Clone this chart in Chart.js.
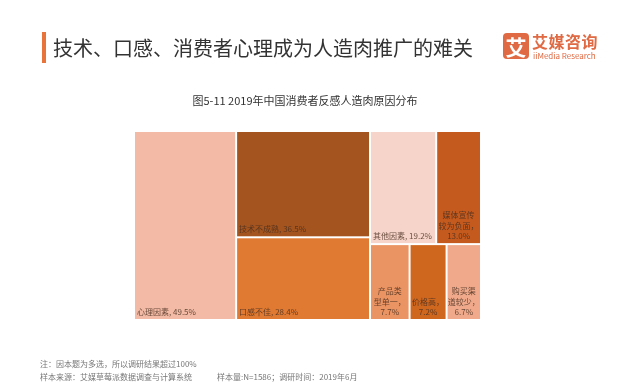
<!DOCTYPE html>
<html><head><meta charset="utf-8">
<script src="https://cdn.jsdelivr.net/npm/chart.js@4.4.0/dist/chart.umd.min.js"></script>
<style>
html,body{margin:0;padding:0;background:#fff;width:640px;height:387px;overflow:hidden;font-family:"Noto Sans CJK SC","Noto Sans",sans-serif;}
#wrap{position:relative;width:640px;height:387px;}
canvas{position:absolute;left:0;top:0;}
.abs{position:absolute;white-space:nowrap;}
#bar{left:42px;top:32px;width:4px;height:31px;background:#E8743B;}
#title{left:53px;top:34px;font-size:20px;color:#333;line-height:28px;}
#logo{left:503px;top:33px;width:26px;height:26px;background:#DF6A43;border-radius:4px;color:#fff;font-size:21px;font-weight:bold;text-align:center;line-height:26px;}
#brand{left:532px;top:30px;font-size:16px;font-weight:bold;color:#DF6A43;line-height:22px;letter-spacing:0.5px;}
#brand2{left:533px;top:51px;font-size:8px;color:#DF6A43;line-height:10px;}
#sub{left:0;width:610px;top:92px;text-align:center;font-size:11px;color:#333;line-height:16px;}
.foot{font-size:8px;color:#777;line-height:11px;}
</style></head>
<body><div id="wrap">
<canvas id="c" width="640" height="387"></canvas>
<div class="abs" id="bar"></div>
<div class="abs" id="title">技术、口感、消费者心理成为人造肉推广的难关</div>
<div class="abs" id="logo">艾</div>
<div class="abs" id="brand">艾媒咨询</div>
<div class="abs" id="brand2">iiMedia Research</div>
<div class="abs" id="sub">图5-11 2019年中国消费者反感人造肉原因分布</div>
<div class="abs foot" style="left:40px;top:358px;">注：因本题为多选，所以调研结果超过100%</div>
<div class="abs foot" style="left:40px;top:371px;">样本来源：艾媒草莓派数据调查与计算系统</div>
<div class="abs foot" style="left:217px;top:371px;">样本量:N=1586；调研时间：2019年6月</div>
</div>
<script>
const categories = ["心理因素","技术不成熟","口感不佳","其他因素","媒体宣传较为负面","产品类型单一","价格高","购买渠道较少"];
const values = [49.5, 36.5, 28.4, 19.2, 13.0, 7.7, 7.2, 6.7];
const colors = ["#F3BAA5","#A3541F","#E07A32","#F7D4C9","#C45A1E","#EB9463","#D0671F","#F0AA8B"];
// grouping structure of the treemap (h = side by side, v = stacked)
const groups = ['h', [0, ['v', [1, 2]], ['v', [['h', [3, 4]], ['h', [5, 6, 7]]]]]];

function sumNode(n){ return typeof n === 'number' ? values[n] : n[1].reduce((s,c)=>s+sumNode(c),0); }
function layout(n, x0, y0, x1, y1, out){
  if (typeof n === 'number'){ out[n] = {x0,y0,x1,y1}; return; }
  const total = sumNode(n); let acc = 0;
  n[1].forEach(c=>{
    const f0 = acc/total; acc += sumNode(c); const f1 = acc/total;
    if (n[0]==='h') layout(c, x0+(x1-x0)*f0, y0, x0+(x1-x0)*f1, y1, out);
    else layout(c, x0, y0+(y1-y0)*f0, x1, y0+(y1-y0)*f1, out);
  });
}
const rects = []; layout(groups, 0, 0, 1, 1, rects);

const treemapPlugin = {
  id:'treemapCells',
  afterDatasetsDraw(chart){
    const {ctx, scales:{x, y}} = chart;
    ctx.save();
    rects.forEach((r,i)=>{
      const px0 = x.getPixelForValue(r.x0), px1 = x.getPixelForValue(r.x1);
      const py0 = y.getPixelForValue(r.y0), py1 = y.getPixelForValue(r.y1);
      const l = Math.min(px0,px1)+1, t = Math.min(py0,py1)+1;
      const w = Math.abs(px1-px0)-2, h = Math.abs(py1-py0)-2;
      ctx.fillStyle = colors[i];
      ctx.fillRect(l, t, w, h);
      // label
      ctx.font = '8px "Noto Sans CJK SC", sans-serif';
      ctx.fillStyle = 'rgba(70,45,30,0.8)';
      ctx.textBaseline = 'alphabetic';
      const full = categories[i] + ', ' + values[i].toFixed(1) + '%';
      const bottom = t + h - 4;
      if (ctx.measureText(full).width <= w - 2){
        ctx.textAlign = 'left';
        ctx.fillText(full, l + 2, bottom);
      } else {
        const avail = w - 8;
        const text = categories[i] + '，';
        const lines = []; let cur = '';
        for (const ch of text){
          if (ctx.measureText(cur+ch).width > avail && cur.length && ch !== '，'){ lines.push(cur); cur = ch; }
          else cur += ch;
        }
        if (cur) lines.push(cur);
        lines.push(values[i].toFixed(1) + '%');
        ctx.textAlign = 'center';
        const cx = l + w/2, lh = 10.5;
        lines.forEach((ln, k)=>{
          ctx.fillText(ln, cx, bottom - (lines.length-1-k)*lh);
        });
      }
    });
    ctx.restore();
  }
};

new Chart(document.getElementById('c'), {
  type:'scatter',
  data:{ datasets:[{ data: rects.map(r=>({x:(r.x0+r.x1)/2, y:(r.y0+r.y1)/2})), pointRadius:0, pointHoverRadius:0 }] },
  options:{
    responsive:false, animation:false, events:[],
    layout:{ padding:{ left:134, right:159, top:131, bottom:67 } },
    scales:{
      x:{ type:'linear', min:0, max:1, display:false },
      y:{ type:'linear', min:0, max:1, reverse:true, display:false }
    },
    plugins:{ legend:{display:false}, tooltip:{enabled:false} }
  },
  plugins:[treemapPlugin]
});
</script>
</body></html>
